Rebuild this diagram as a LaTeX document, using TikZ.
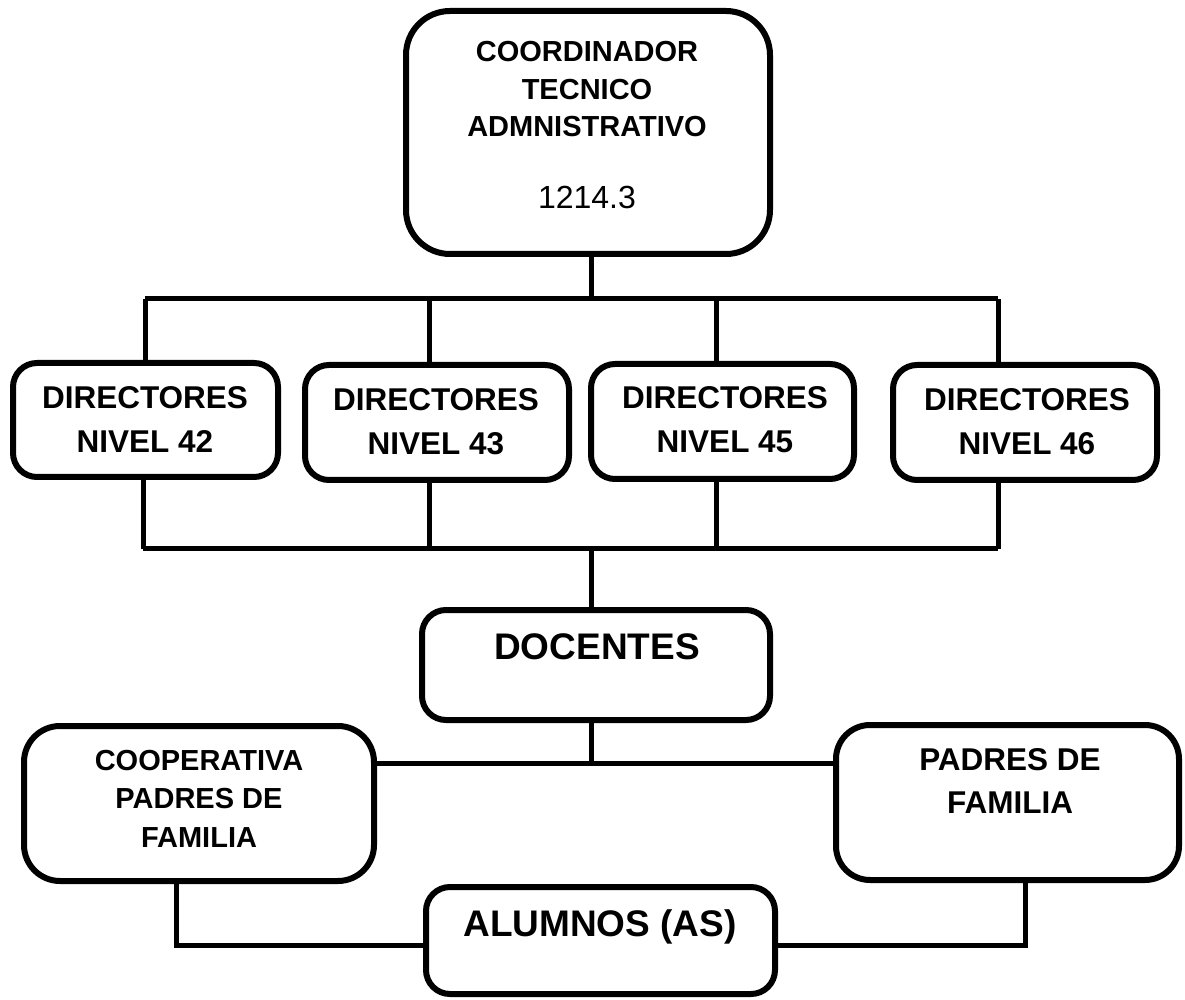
\documentclass[tikz,border=0pt]{standalone}
\usepackage{fontspec}
\setmainfont{Liberation Sans}
\begin{document}
\begin{tikzpicture}[x=0.5pt,y=-0.5pt,
        caja/.style={draw, fill=white, line width=3pt, rounded corners=#1, inner sep=0pt},
        caja/.default=12pt,
        linea/.style={line width=2.5pt, line join=miter},
        texto/.style={align=center, inner sep=0pt}]

        % Margini della figura
        \useasboundingbox (0,0) rectangle (1185,1000);

        % Caselle
        \node[caja=22pt, minimum width=182pt, minimum height=121.5pt] (coord) at (588,132.5) {};
        \node[caja, minimum width=132.5pt, minimum height=57pt] (d42) at (145.5,420) {};
        \node[caja, minimum width=132pt, minimum height=57.5pt] (d43) at (437,422.5) {};
        \node[caja, minimum width=131.5pt, minimum height=57.5pt] (d45) at (722.5,421.5) {};
        \node[caja, minimum width=132pt, minimum height=57.5pt] (d46) at (1025,422.5) {};
        \node[caja, minimum width=174pt, minimum height=55pt] (doc) at (596,665) {};
        \node[caja=18pt, minimum width=175pt, minimum height=77.5pt] (coop) at (199,803.5) {};
        \node[caja=17pt, minimum width=171.5pt, minimum height=77.5pt] (padres) at (1007.5,802.5) {};
        \node[caja, minimum width=174.5pt, minimum height=53.5pt] (alu) at (600.5,940.5) {};

        % Testi
        \node[texto, font=\fontsize{14.5}{18.75}\selectfont\bfseries] (tcoord) at (587,89.5) {COORDINADOR\\TECNICO\\ADMNISTRATIVO};
        \node[texto, font=\fontsize{16}{19}\selectfont] (tnum) at (587,197) {1214.3};
        \node[texto, font=\fontsize{15.75}{22}\selectfont\bfseries] (t42) at (145,420) {DIRECTORES\\NIVEL 42};
        \node[texto, font=\fontsize{15.75}{22}\selectfont\bfseries] (t43) at (436,421.5) {DIRECTORES\\NIVEL 43};
        \node[texto, font=\fontsize{15.75}{22}\selectfont\bfseries] (t45) at (725,420) {DIRECTORES\\NIVEL 45};
        \node[texto, font=\fontsize{15.75}{22}\selectfont\bfseries] (t46) at (1027,421.5) {DIRECTORES\\NIVEL 46};
        \node[texto, font=\fontsize{18.5}{22}\selectfont\bfseries] (tdoc) at (597,647) {DOCENTES};
        \node[texto, font=\fontsize{14.5}{19.25}\selectfont\bfseries] (tcoop) at (199,798.5) {COOPERATIVA\\PADRES DE\\FAMILIA};
        \node[texto, font=\fontsize{15.75}{21.5}\selectfont\bfseries] (tpadres) at (1010,781.5) {PADRES DE\\FAMILIA};
        \node[texto, font=\fontsize{18.5}{22}\selectfont\bfseries] (talu) at (600,926.5) {ALUMNOS (AS)};

        % Punti delle linee
        \coordinate (s1) at (145,299);
        \coordinate (s2) at (429,299);
        \coordinate (s3) at (716,299);
        \coordinate (s4) at (998,299);
        \coordinate (i1) at (143,549);
        \coordinate (i2) at (429,549);
        \coordinate (i3) at (716,549);
        \coordinate (i4) at (998,549);
        \coordinate (j) at (591,763);
        \coordinate (k1) at (176,945);
        \coordinate (k2) at (1025,945);

        % Linee superiori
        \draw[linea] (coord.south -| j) -- (j |- s1);
        \draw[linea] (s1) -- (s4);
        \draw[linea] (s1) -- (s1 |- d42.north);
        \draw[linea] (s2) -- (s2 |- d43.north);
        \draw[linea] (s3) -- (s3 |- d45.north);
        \draw[linea] (s4) -- (s4 |- d46.north);

        % Linee inferiori
        \draw[linea] (i1) -- (i4);
        \draw[linea] (i1) -- (i1 |- d42.south);
        \draw[linea] (i2) -- (i2 |- d43.south);
        \draw[linea] (i3) -- (i3 |- d45.south);
        \draw[linea] (i4) -- (i4 |- d46.south);
        \draw[linea] (doc.north -| j) -- (j |- i1);
        \draw[linea] (doc.south -| j) -- (j);
        \draw[linea] (coop.east |- j) -- (padres.west |- j);
        \draw[linea] (coop.south -| k1) -- (k1) -- (alu.west |- k1);
        \draw[linea] (alu.east |- k2) -- (k2) -- (padres.south -| k2);

        \end{tikzpicture}
\end{document}
